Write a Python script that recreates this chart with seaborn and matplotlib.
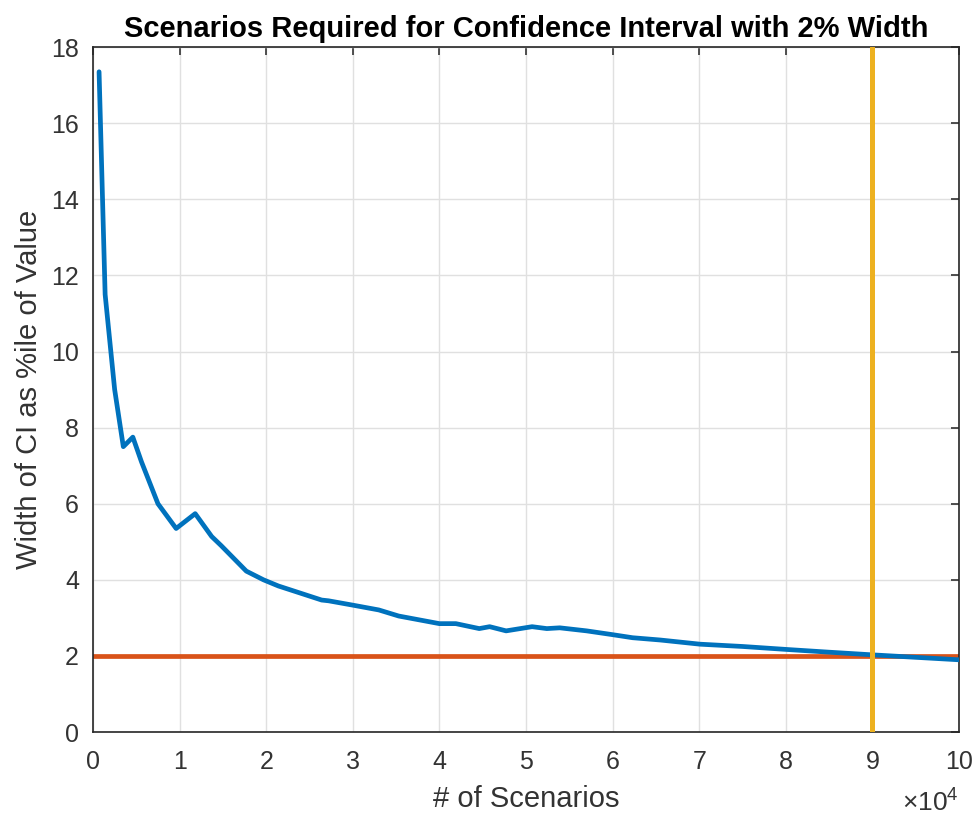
import numpy as np
import pandas as pd
import matplotlib
matplotlib.use("Agg")
import matplotlib.pyplot as plt
from matplotlib.ticker import FuncFormatter, MultipleLocator
import seaborn as sns

# data
scenarios = [700, 1400, 2500, 3500, 4600, 5600, 7500, 9600, 11800, 13700,
             14800, 17700, 19700, 21400, 26400, 27200, 29900, 33000, 35300,
             40000, 41900, 44600, 45800, 47700, 50700, 52400, 53900, 57000,
             60000, 62300, 65500, 70100, 75000, 80200, 85000, 90000, 100000]
ci_width = [17.35, 11.5, 9.0, 7.5, 7.75, 7.1, 6.0, 5.35, 5.74, 5.14,
            4.9, 4.23, 4.0, 3.84, 3.47, 3.45, 3.34, 3.21, 3.05,
            2.85, 2.85, 2.72, 2.77, 2.66, 2.77, 2.72, 2.74, 2.66,
            2.56, 2.48, 2.42, 2.31, 2.25, 2.17, 2.1, 2.03, 1.9]
target_width = 2
required_scenarios = 90000

df = pd.DataFrame({"scenarios": scenarios, "width": ci_width})

sns.set_style("whitegrid")
plt.rcParams["font.family"] = ["Liberation Sans", "DejaVu Sans"]
plt.rcParams["mathtext.fontset"] = "custom"
plt.rcParams["mathtext.rm"] = "Liberation Sans"

dark = "#262626"
grey_text = "#333333"
fig = plt.figure(figsize=(9.79, 8.18), dpi=100)
ax = fig.add_axes([0.095, 0.105, 0.8846, 0.8375])

sns.lineplot(data=df, x="scenarios", y="width", ax=ax, color="#0072BD",
             linewidth=3.4, zorder=3)
ax.axhline(target_width, color="#D95319", linewidth=3.4, zorder=2)
ax.axvline(required_scenarios, color="#EDB120", linewidth=3.6, zorder=4)

ax.set_xlim(0, 100000)
ax.set_ylim(0, 18)
ax.xaxis.set_major_locator(MultipleLocator(10000))
ax.yaxis.set_major_locator(MultipleLocator(2))

# MATLAB style exponent label under the right end of the x axis
ax.xaxis.set_major_formatter(FuncFormatter(lambda v, p: f"{v / 1e4:g}"))
ax.text(1.0, -0.116, r"$\times\mathregular{10^{4}}$", transform=ax.transAxes,
        ha="right", va="baseline", fontsize=19, color=grey_text)

ax.grid(True, color="#e0e0e0", linewidth=1)
for s in ax.spines.values():
    s.set_visible(True)
    s.set_color(dark)
    s.set_linewidth(1.2)
ax.tick_params(direction="in", length=6, width=1.2, colors=grey_text,
               labelsize=18, top=True, right=True)
ax.tick_params(axis="x", pad=13)
ax.tick_params(axis="y", pad=10)

ax.set_title("Scenarios Required for Confidence Interval with 2% Width",
             fontsize=21, fontweight="bold", color="black", pad=7)
ax.set_xlabel("# of Scenarios", fontsize=21, color=grey_text, labelpad=8)
ax.set_ylabel("Width of CI as %ile of Value", fontsize=21, color=grey_text,
              labelpad=6)

fig.savefig("out.png", dpi=100)
